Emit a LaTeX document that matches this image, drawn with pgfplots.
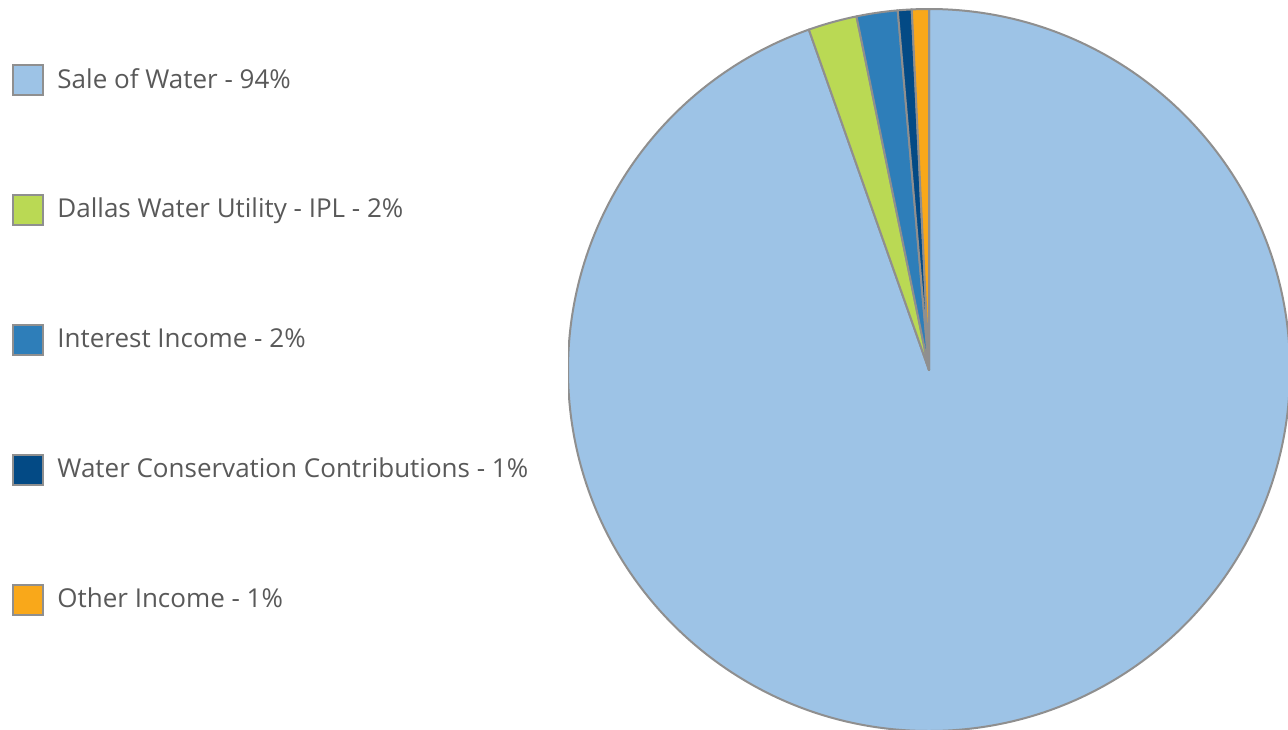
\documentclass[border=0pt]{standalone}
\usepackage{pgfplots}
\usepackage{pgfplotstable}
\pgfplotsset{compat=1.18}
\usepackage{fontspec}
\setmainfont{Open Sans}
\definecolor{salewater}{HTML}{9DC3E6}
\definecolor{dwu}{HTML}{BAD954}
\definecolor{interest}{HTML}{2E7EB9}
\definecolor{conserv}{HTML}{034A85}
\definecolor{otherinc}{HTML}{F9A81A}
\definecolor{piegray}{HTML}{8F8F8F}
\definecolor{textgray}{HTML}{595959}
\pgfplotstableread{
label value color
Sale 94.60 salewater
DWU 2.18 dwu
Interest 1.84 interest
Conservation 0.62 conserv
Other 0.76 otherinc
}\piedata
\begin{document}
\begin{tikzpicture}
\begin{axis}[
  scale only axis, width=361pt, height=361pt,
  xmin=-1, xmax=1, ymin=-1, ymax=1,
  hide axis,
  at={(464.5pt,179.5pt)}, anchor=center,
  legend image code/.code={\draw[#1] (0pt,-7.5pt) rectangle (15pt,7.5pt);},
  legend cell align=left,
  legend style={draw=none, fill=none, at={(axis description cs:-0.770,0.925)}, anchor=north west,
    inner sep=0pt, row sep=49pt, font=\fontsize{13pt}{15pt}\selectfont, text=textgray,
    nodes={inner sep=0pt, text=textgray}, column sep=6.5pt},
]
\addlegendimage{fill=salewater, draw=piegray, line width=1pt}
\addlegendentry{Sale of Water - 94\%}
\addlegendimage{fill=dwu, draw=piegray, line width=1pt}
\addlegendentry{Dallas Water Utility - IPL - 2\%}
\addlegendimage{fill=interest, draw=piegray, line width=1pt}
\addlegendentry{Interest Income - 2\%}
\addlegendimage{fill=conserv, draw=piegray, line width=1pt}
\addlegendentry{Water Conservation Contributions - 1\%}
\addlegendimage{fill=otherinc, draw=piegray, line width=1pt}
\addlegendentry{Other Income - 1\%}
\pgfplotsextra{
  \xdef\acc{90}
  \foreach \i in {0,...,4}{
    \pgfplotstablegetelem{\i}{value}\of\piedata \let\v\pgfplotsretval
    \pgfplotstablegetelem{\i}{color}\of\piedata \let\c\pgfplotsretval
    \pgfmathsetmacro\e{\acc-3.6*\v}
    \filldraw[fill=\c, draw=piegray, line width=1pt, line join=round]
      (axis cs:0,0) -- (axis cs:{cos(\acc)},{sin(\acc)})
      arc[start angle=\acc, end angle=\e, radius=180.5pt] -- cycle;
    \xdef\acc{\e}
  }
}
\end{axis}
\pgfresetboundingbox
\useasboundingbox (0,0) rectangle (644pt,364.5pt);
\end{tikzpicture}
\end{document}
